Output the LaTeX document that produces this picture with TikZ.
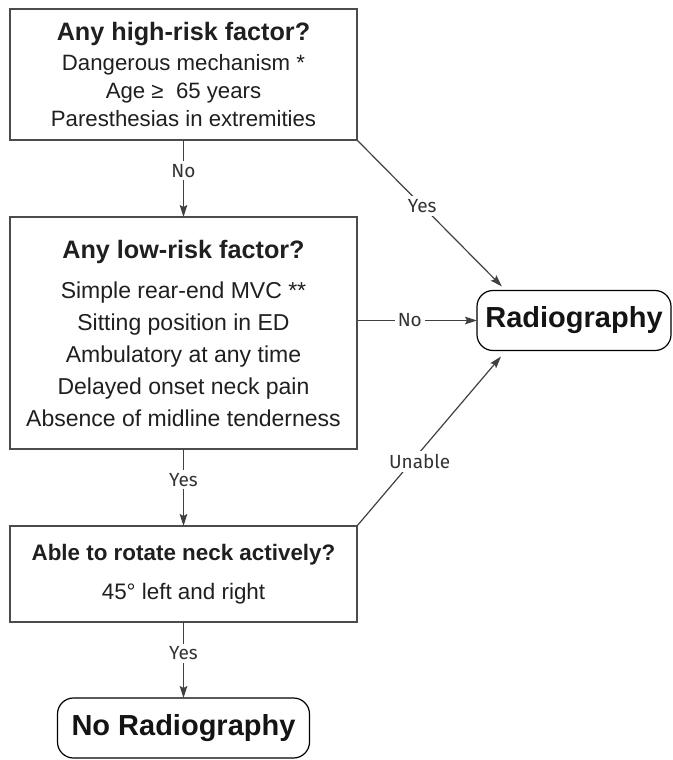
\documentclass[tikz,border=0pt]{standalone}
\usepackage{fontspec}
\setmainfont{Liberation Sans}
\newfontfamily\lblfont{Fira Sans}
\usetikzlibrary{arrows.meta,calc}

\tikzset{
  qbox/.style={draw=black!70, line width=0.8pt, align=center, text=black!88,
    minimum width=173.5pt, inner sep=0pt, outer sep=0pt},
  endbox/.style={draw=black, line width=0.6pt, rounded corners=8pt, text=black!92,
    font=\fontsize{14.5}{17}\selectfont\bfseries, minimum height=30pt,
    inner sep=0pt, outer sep=0pt},
  lbl/.style={fill=white, inner sep=1.5pt, text=black!80,
    font=\lblfont\fontsize{9.5}{11}\selectfont},
  flow/.style={draw=black!75, line width=0.6pt, ->,
    >={Stealth[length=6pt,width=3.8pt,inset=1pt]}}
}

\begin{document}
\begin{tikzpicture}[x=0.5pt,y=-0.5pt]
  \useasboundingbox (0,0) rectangle (673,760);
  \node[qbox, minimum height=65.5pt, font=\fontsize{11.1}{14}\selectfont] (hi) at (183.5,74.5)
    {{\fontsize{12.6}{14}\selectfont\bfseries Any high-risk factor?}\\[1pt]
     Dangerous mechanism *\\ Age ≥\ \ 65 years\\ Paresthesias in extremities};
  \node[qbox, minimum height=116pt, font=\fontsize{11.5}{16}\selectfont] (lo) at (183.5,333)
    {{\fontsize{12.6}{14}\selectfont\bfseries Any low-risk factor?}\\[4pt]
     Simple rear-end MVC **\\ Sitting position in ED\\ Ambulatory at any time\\
     Delayed onset neck pain\\ Absence of midline tenderness};
  \node[qbox, minimum height=48pt, font=\fontsize{11.2}{19.5}\selectfont] (rot) at (183.5,574)
    {{\bfseries Able to rotate neck actively?}\\ 45° left and right};
  \node[endbox, minimum width=97pt] (rad) at (574,320.5) {Radiography};
  \node[endbox, minimum width=126pt] (norad) at (183.5,728) {No Radiography};

  \coordinate (radtop) at ($(rad.north west)+(25,-4)$);
  \coordinate (radbot) at ($(rad.south west)+(24,6)$);

  \draw[flow] (hi) -- node[lbl,pos=0.4]{No} (lo);
  \draw[flow] (lo) -- node[lbl,pos=0.4]{Yes} (rot);
  \draw[flow] (rot) -- node[lbl,pos=0.41]{Yes} (norad);
  \draw[flow] (hi.south east) -- node[lbl,pos=0.45]{Yes} (radtop);
  \draw[flow] (lo.east |- rad.west) -- node[lbl,pos=0.44]{No} (rad.west);
  \draw[flow] (rot.north east) -- node[lbl,pos=0.38,xshift=4pt]{Unable} (radbot);
\end{tikzpicture}
\end{document}
